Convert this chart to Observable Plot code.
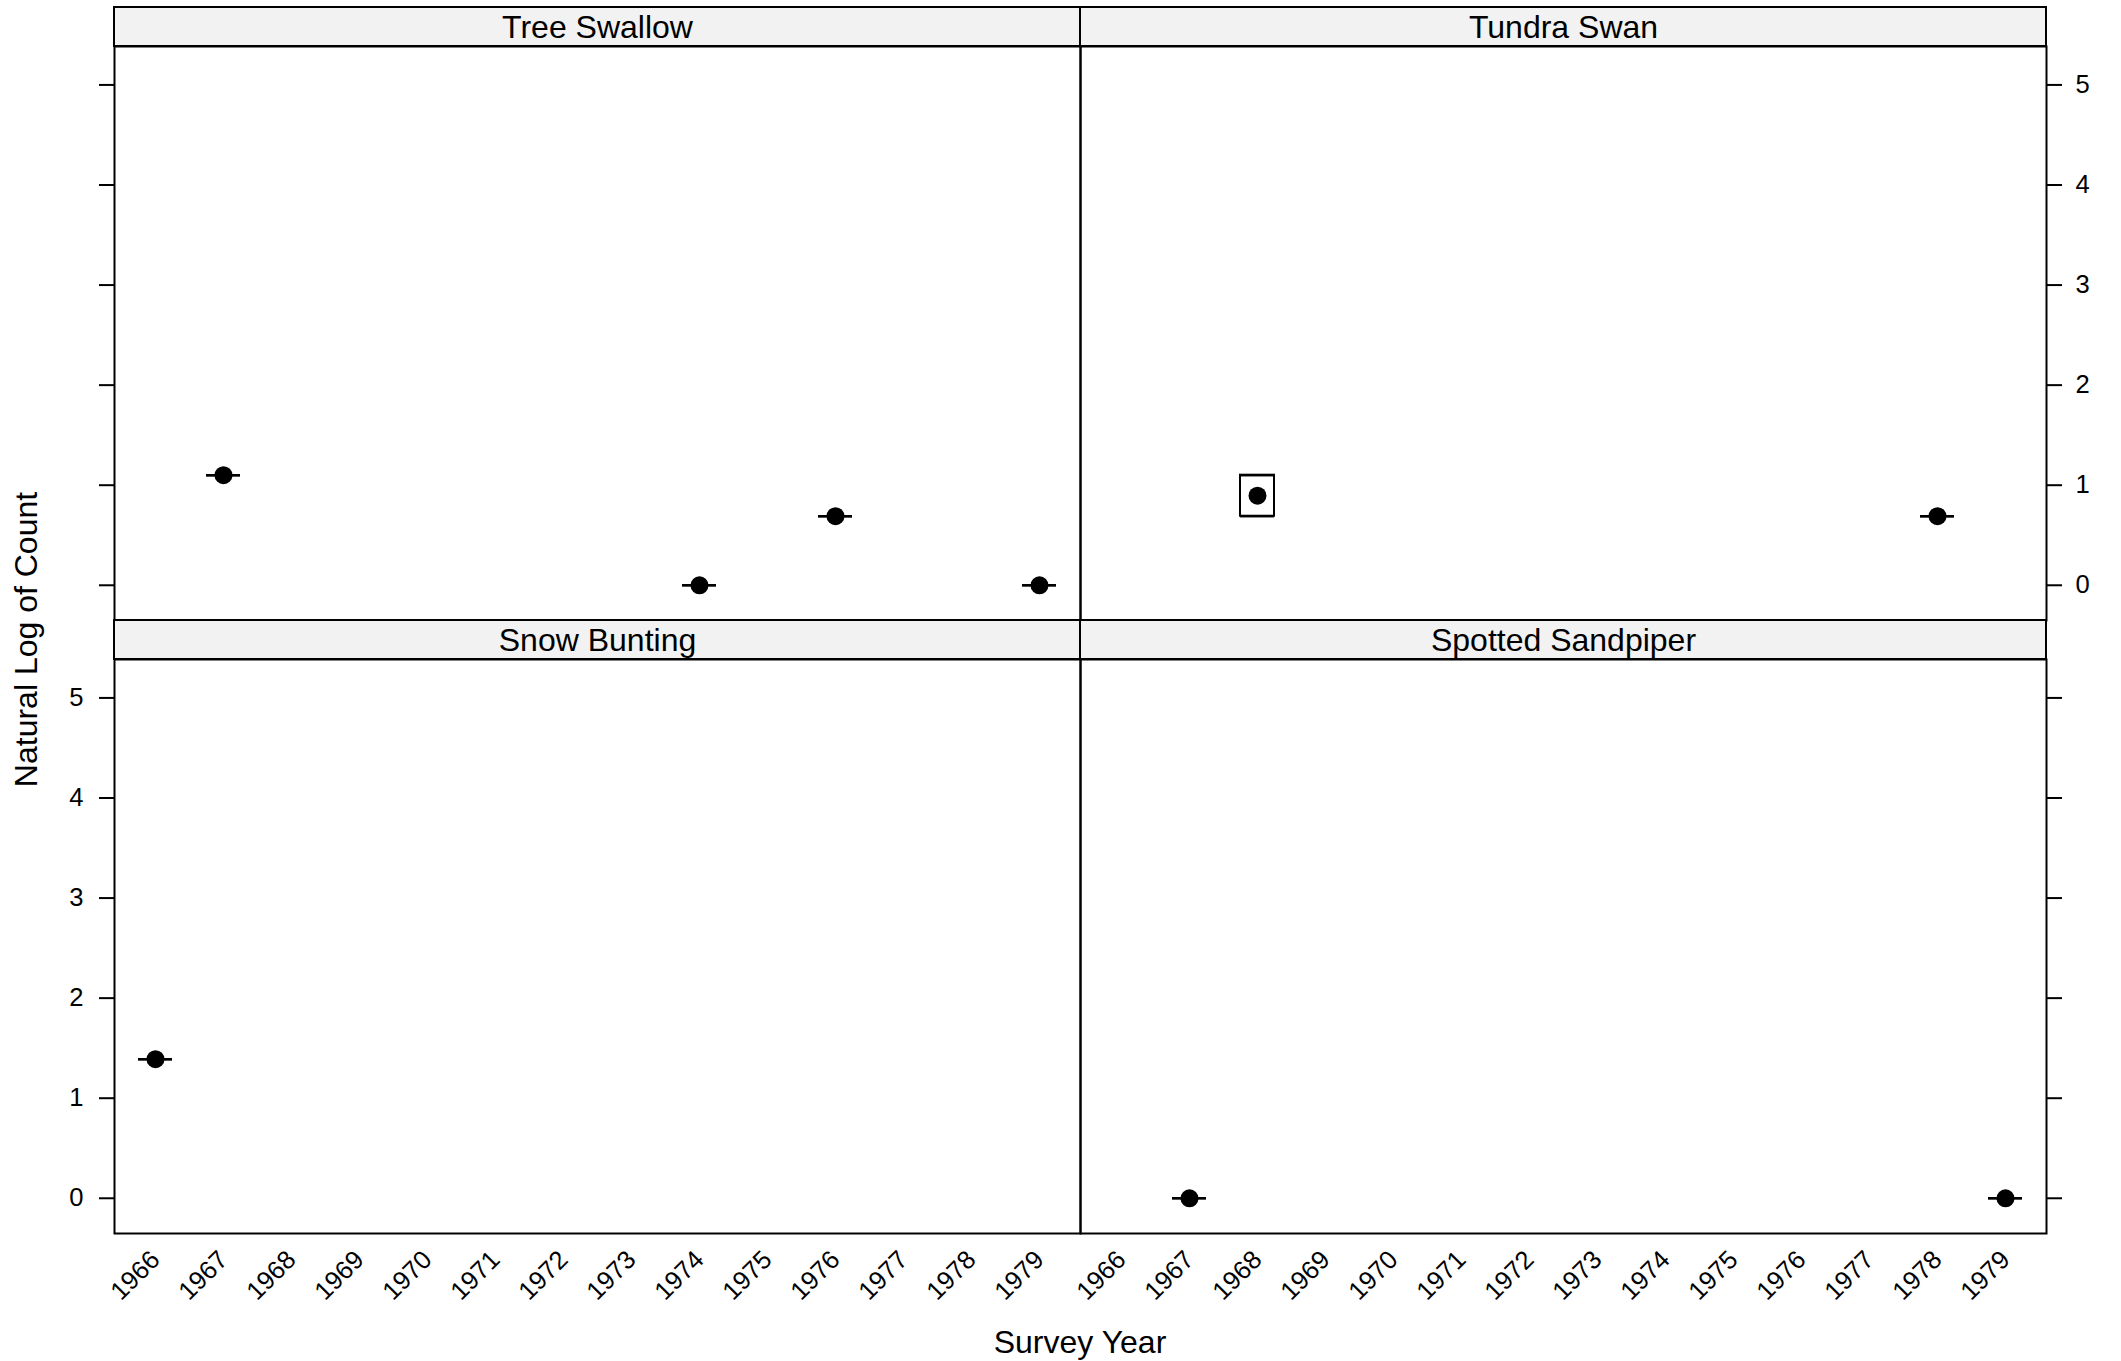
<!DOCTYPE html>
<html>
<head>
<meta charset="utf-8">
<script src="https://cdn.jsdelivr.net/npm/d3@7"></script>
<script src="https://cdn.jsdelivr.net/npm/@observablehq/plot@0.6"></script>
<style>
  body { margin: 0; background: #fff; }
  #chart { position: relative; width: 2121px; height: 1361px; background: #fff;
           font-family: "Liberation Sans", Arial, Helvetica, sans-serif; color: #000; }
  #chart svg { position: absolute; overflow: visible; }
</style>
</head>
<body>
<div id="chart"></div>
<script>
// ---------------- data ----------------
const panelNames = ["Tree Swallow", "Tundra Swan", "Snow Bunting", "Spotted Sandpiper"];
const years = ["1966","1967","1968","1969","1970","1971","1972","1973","1974","1975","1976","1977","1978","1979"];
const yTicks = [0, 1, 2, 3, 4, 5];
const obsSpecies = ["Tree Swallow","Tree Swallow","Tree Swallow","Tree Swallow",
                    "Tundra Swan","Tundra Swan","Tundra Swan",
                    "Snow Bunting",
                    "Spotted Sandpiper","Spotted Sandpiper"];
const obsYear    = ["1967","1974","1976","1979",
                    "1968","1968","1978",
                    "1966",
                    "1967","1979"];
const obsLogCount = [1.10, 0.00, 0.69, 0.00,
                     0.69, 1.10, 0.69,
                     1.39,
                     0.00, 0.00];
const xTitle = "Survey Year";
const yTitle = "Natural Log of Count";

// ---------------- layout ----------------
const FONT = '"Liberation Sans", Arial, Helvetica, sans-serif';
const panelW = 966, panelH = 574, stripH = 39;
const colLeft = [114, 1080];
const rowTop = [46, 659];
const yDomain = [-0.352, 5.384];

// Tukey five-number summary (as used by bwplot)
function fivenum(v) {
  v = v.slice().sort(d3.ascending);
  const n = v.length;
  const n4 = Math.floor((n + 3) / 2) / 2;
  const d = [1, n4, (n + 1) / 2, n + 1 - n4, n];
  return d.map(x => 0.5 * (v[Math.floor(x) - 1] + v[Math.ceil(x) - 1]));
}

const obs = obsSpecies.map((s, i) => ({species: s, year: obsYear[i], value: obsLogCount[i]}));
const stats = [];
for (const [sp, byYear] of d3.group(obs, d => d.species, d => d.year)) {
  for (const [yr, rows] of byYear) {
    const [min, q1, median, q3, max] = fivenum(rows.map(r => r.value));
    stats.push({species: sp, year: yr, min, q1, median, q3, max});
  }
}

const chart = document.getElementById("chart");

panelNames.forEach((name, k) => {
  const col = k % 2, row = Math.floor(k / 2);
  const data = stats.filter(d => d.species === name);
  const mL = col === 0 ? colLeft[0] : 0;
  const mR = col === 0 ? 0 : 2121 - (colLeft[1] + panelW);
  const mT = row === 0 ? rowTop[0] : stripH;
  const mB = row === 0 ? 0 : 1361 - (rowTop[1] + panelH);
  const svgLeft = colLeft[col] - mL;
  const svgTop = rowTop[row] - mT;

  const strip = (index, scales, values, dim) => {
    const g = d3.create("svg:g");
    g.append("rect")
      .attr("x", dim.marginLeft)
      .attr("y", dim.marginTop - stripH)
      .attr("width", dim.width - dim.marginLeft - dim.marginRight)
      .attr("height", stripH)
      .attr("fill", "#f2f2f2")
      .attr("stroke", "black")
      .attr("stroke-width", 2);
    return g.node();
  };

  const marks = [
    strip,
    Plot.text([name], {text: d => d, frameAnchor: "top", dy: -stripH / 2 + 1, lineAnchor: "middle",
                       fontSize: 32, fill: "black"}),
    Plot.frame({stroke: "black", strokeWidth: 2}),
    // whiskers
    Plot.ruleX(data, {x: "year", y1: "q3", y2: "max", stroke: "black", strokeWidth: 2}),
    Plot.ruleX(data, {x: "year", y1: "min", y2: "q1", stroke: "black", strokeWidth: 2}),
    // whisker caps
    Plot.tickY(data, {x: "year", y: "min", stroke: "black", strokeWidth: 2, insetLeft: 17, insetRight: 17}),
    Plot.tickY(data, {x: "year", y: "max", stroke: "black", strokeWidth: 2, insetLeft: 17, insetRight: 17}),
    // box
    Plot.barY(data, {x: "year", y1: "q1", y2: "q3", fill: "none", stroke: "black", strokeWidth: 2,
                     insetLeft: 17, insetRight: 17}),
    Plot.tickY(data, {x: "year", y: "q1", stroke: "black", strokeWidth: 2, insetLeft: 17, insetRight: 17}),
    Plot.tickY(data, {x: "year", y: "q3", stroke: "black", strokeWidth: 2, insetLeft: 17, insetRight: 17}),
    // median dot
    Plot.dot(data, {x: "year", y: "median", r: 9, fill: "black", stroke: null})
  ];

  // y axes (lattice alternating): left column -> left side, right column -> right side
  const showYLabels = (col === 0 && row === 1) || (col === 1 && row === 0);
  marks.push(Plot.axisY({
    ticks: yTicks,
    anchor: col === 0 ? "left" : "right",
    tickSize: 15,
    tickPadding: col === 0 ? 16 : 14,
    strokeWidth: 2,
    fontSize: 25.6,
    tickFormat: showYLabels ? (d => String(d)) : (() => ""),
    label: null
  }));

  // x labels on the bottom row
  if (row === 1) {
    marks.push(Plot.text(years, {
      x: d => d, text: d => d, frameAnchor: "bottom", dy: 22,
      rotate: -45, textAnchor: "end", lineAnchor: "middle", fontSize: 25.6, fill: "black"
    }));
  }

  const svg = Plot.plot({
    width: mL + panelW + mR,
    height: mT + panelH + mB,
    marginLeft: mL, marginRight: mR, marginTop: mT, marginBottom: mB,
    style: {background: "transparent", overflow: "visible", fontFamily: FONT, color: "black"},
    x: {type: "band", domain: years, paddingInner: 0, paddingOuter: 0.1, axis: null},
    y: {domain: yDomain, axis: null},
    marks
  });
  svg.style.left = svgLeft + "px";
  svg.style.top = svgTop + "px";
  chart.appendChild(svg);
});

// axis titles
const overlay = d3.create("svg")
  .attr("width", 2121).attr("height", 1361)
  .style("left", "0px").style("top", "0px")
  .style("pointer-events", "none")
  .attr("font-family", FONT);
overlay.append("text")
  .attr("transform", `translate(37,${(rowTop[0] + rowTop[1] + panelH) / 2}) rotate(-90)`)
  .attr("text-anchor", "middle")
  .attr("font-size", 32)
  .attr("fill", "black")
  .text(yTitle);
overlay.append("text")
  .attr("x", (colLeft[0] + colLeft[1] + panelW) / 2)
  .attr("y", 1353)
  .attr("text-anchor", "middle")
  .attr("font-size", 32)
  .attr("fill", "black")
  .text(xTitle);
chart.appendChild(overlay.node());
</script>
</body>
</html>
